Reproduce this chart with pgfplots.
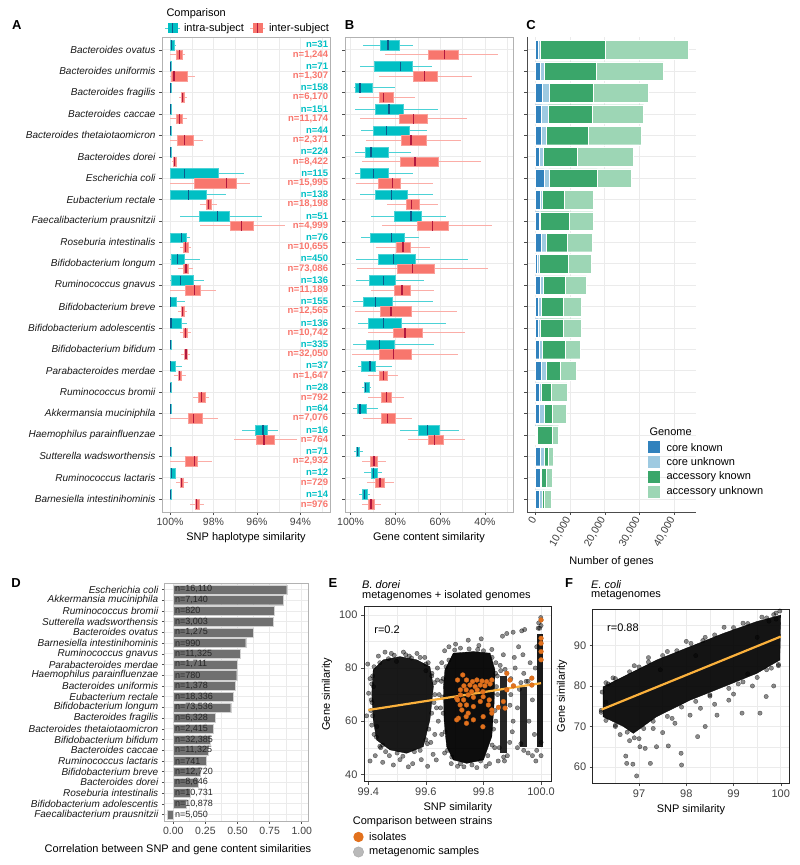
\documentclass[border=0pt]{standalone}
\usepackage{pgfplots}
\pgfplotsset{compat=1.18}
\usepgfplotslibrary{statistics}
\usepackage{pgfplotstable}
\usepackage{fontspec}
\setmainfont{Liberation Sans}

\definecolor{intraC}{HTML}{00BFC4}
\definecolor{intraM}{HTML}{0D5A8C}
\definecolor{interC}{HTML}{F8766D}
\definecolor{interM}{HTML}{B2183F}
\definecolor{gridc}{HTML}{EBEBEB}
\definecolor{ckC}{HTML}{3182BD}
\definecolor{cuC}{HTML}{9ECAE1}
\definecolor{akC}{HTML}{3AA66A}
\definecolor{auC}{HTML}{9DD6B5}
\definecolor{barD}{HTML}{707070}
\definecolor{isoC}{HTML}{E2711D}
\definecolor{fitC}{HTML}{FBB13C}

\newcommand\fs[1]{\fontsize{#1}{#1}\selectfont}

\tikzset{
  nA/.style={anchor=east, inner sep=0pt, font=\fs{9.5}\bfseries},
  nD/.style={anchor=west, inner sep=0pt, font=\fs{9}, text=black!85},
}

\pgfplotsset{
  gg/.style={scale only axis, anchor=south west, clip mode=individual,
    axis line style={draw=gray!60, line width=0.6pt},
    tick style={draw=black!70, line width=0.5pt}, major tick length=3pt, minor tick length=0pt,
    tick align=outside, tick pos=left, grid=both,
    major grid style={draw=gridc, line width=0.7pt},
    minor grid style={draw=gridc, line width=0.35pt},
    tick label style={font=\fs{10.5}, text=black!75},
    label style={font=\fs{11}},
    /pgf/number format/assume math mode=true},
  noylab/.style={yticklabel style={text opacity=0}},
  bxIntra/.style={solid, boxplot/draw direction=x, boxplot/box extend=0.45, boxplot/whisker extend=0,
    boxplot/every box/.style={draw=intraC!70!white, fill=intraC, line width=0.4pt},
    boxplot/every whisker/.style={draw=intraC!70!white, line width=0.9pt},
    boxplot/every median/.style={draw=intraM, line width=1.3pt}},
  bxInter/.style={solid, boxplot/draw direction=x, boxplot/box extend=0.45, boxplot/whisker extend=0,
    boxplot/every box/.style={draw=interC!70!white, fill=interC, line width=0.4pt},
    boxplot/every whisker/.style={draw=interC!60!white, line width=0.9pt},
    boxplot/every median/.style={draw=interM, line width=1.3pt}},
  cloud/.style={only marks, mark=*, mark size=2.2pt, mark options={fill=black, fill opacity=0.45, draw=black, draw opacity=0.6, line width=0.3pt}},
}

\newcommand\bp[7]{\addplot[#1, boxplot prepared={draw position={#2}, lower whisker=#3, lower quartile=#4, median=#5, upper quartile=#6, upper whisker=#7}] coordinates {};}
\newcommand\ia[6]{\bp{bxIntra}{#1+0.225}{#2}{#3}{#4}{#5}{#6}}
\newcommand\ie[6]{\bp{bxInter}{#1-0.225}{#2}{#3}{#4}{#5}{#6}}
\newcommand\nl[3]{\node[nA, text=intraC] at (axis cs:92.72,{#1+0.24}) {n=#2};
  \node[nA, text=interC] at (axis cs:92.72,{#1-0.22}) {n=#3};}

% genome composition (panel C), y = 23 - row
\pgfplotstableread{
y ck cu ak au
22 863 672 18705 23789
21 1535 1055 14868 19472
20 2014 2111 12566 15731
19 1823 1918 12566 14868
18 1727 1343 12182 15252
17 1055 1151 9880 16211
16 2494 1439 13909 9688
15 1343 575 6331 8538
14 1055 480 8153 6907
13 1631 1439 6235 7098
12 671 384 8345 6811
11 1343 959 6331 6139
10 959 672 6427 5275
9 863 480 6715 5084
8 1055 1055 6427 4509
7 1631 1630 4029 4509
6 1151 576 2781 4605
5 1247 1247 2398 4125
4 192 384 4316 1823
3 1535 1055 1055 1439
2 1439 288 1343 1726
1 1247 767 672 1822
}\dataC

% correlation (panel D)
\pgfplotstableread{
y r
22 0.883
21 0.857
20 0.784
19 0.779
18 0.623
17 0.564
16 0.519
15 0.501
14 0.494
13 0.483
12 0.468
11 0.447
10 0.330
9 0.314
8 0.286
7 0.273
6 0.255
5 0.208
4 0.195
3 0.130
2 0.104
1 -0.044
}\dataD

\begin{document}
\begin{tikzpicture}[x=1pt,y=1pt]
\useasboundingbox (0,0) rectangle (800,865);

% ---------------- A ----------------
\begin{axis}[gg, at={(162pt,353pt)}, width=168pt, height=475pt,
  x dir=reverse, xmin=92.64, xmax=100.37, ymin=0.4, ymax=22.6,
  xtick={100,98,96,94}, xticklabels={100\%,98\%,96\%,94\%}, minor xtick={99,97,95,93},
  ytick={1,...,22},
  yticklabels={Barnesiella intestinihominis, Ruminococcus lactaris, Sutterella wadsworthensis,
    Haemophilus parainfluenzae, Akkermansia muciniphila, Ruminococcus bromii, Parabacteroides merdae,
    Bifidobacterium bifidum, Bifidobacterium adolescentis, Bifidobacterium breve, Ruminococcus gnavus,
    Bifidobacterium longum, Roseburia intestinalis, Faecalibacterium prausnitzii, Eubacterium rectale,
    Escherichia coli, Bacteroides dorei, Bacteroides thetaiotaomicron, Bacteroides caccae,
    Bacteroides fragilis, Bacteroides uniformis, Bacteroides ovatus},
  yticklabel style={font=\fs{10}\itshape, text=black!90},
  xlabel={SNP haplotype similarity}]
\ia{22}{99.72}{99.82}{99.92}{99.99}{100}
\ia{21}{99.95}{99.96}{99.98}{100}{100}
\ia{20}{99.95}{99.96}{99.98}{100}{100}
\ia{19}{99.95}{99.96}{99.98}{100}{100}
\ia{18}{99.95}{99.96}{99.98}{100}{100}
\ia{17}{99.95}{99.96}{99.98}{100}{100}
\ia{16}{96.60}{97.78}{99.32}{100}{100}
\ia{15}{97.43}{98.32}{99.16}{99.98}{100}
\ia{14}{95.76}{97.28}{97.83}{98.67}{99.55}
\ia{13}{99.10}{99.27}{99.47}{100}{100}
\ia{12}{98.64}{99.35}{99.65}{99.93}{100}
\ia{11}{98.43}{98.93}{99.53}{99.93}{100}
\ia{10}{99.32}{99.70}{99.97}{100}{100}
\ia{9}{99.21}{99.47}{99.95}{100}{100}
\ia{8}{99.95}{99.96}{99.98}{100}{100}
\ia{7}{99.44}{99.75}{99.97}{100}{100}
\ia{6}{99.95}{99.96}{99.98}{100}{100}
\ia{5}{99.95}{99.96}{99.98}{100}{100}
\ia{4}{95.04}{95.52}{95.72}{96.08}{96.68}
\ia{3}{99.95}{99.96}{99.98}{100}{100}
\ia{2}{99.74}{99.76}{99.93}{99.98}{100}
\ia{1}{99.95}{99.96}{99.98}{100}{100}
\ie{22}{99.32}{99.43}{99.56}{99.72}{100}
\ie{21}{98.83}{99.21}{99.82}{99.96}{100}
\ie{20}{99.24}{99.33}{99.42}{99.50}{99.58}
\ie{19}{99.21}{99.44}{99.56}{99.72}{100}
\ie{18}{98.49}{98.95}{99.35}{99.66}{100}
\ie{17}{99.67}{99.73}{99.79}{99.85}{99.92}
\ie{16}{96.30}{96.94}{97.40}{98.87}{100}
\ie{15}{97.83}{98.11}{98.23}{98.34}{98.64}
\ie{14}{94.69}{96.18}{96.71}{97.22}{98.60}
\ie{13}{99.03}{99.16}{99.29}{99.39}{99.52}
\ie{12}{98.93}{99.16}{99.27}{99.39}{99.62}
\ie{11}{97.90}{98.63}{98.89}{99.32}{100}
\ie{10}{99.24}{99.36}{99.43}{99.50}{99.62}
\ie{9}{99.03}{99.21}{99.30}{99.39}{99.56}
\ie{8}{99.09}{99.20}{99.26}{99.33}{99.50}
\ie{7}{99.26}{99.47}{99.55}{99.62}{99.84}
\ie{6}{98.21}{98.39}{98.55}{98.70}{98.95}
\ie{5}{97.78}{98.54}{98.93}{99.16}{100}
\ie{4}{94.14}{95.21}{95.67}{96.02}{97.06}
\ie{3}{98.09}{98.74}{98.89}{99.32}{100}
\ie{2}{99.16}{99.38}{99.46}{99.52}{99.72}
\ie{1}{98.46}{98.66}{98.77}{98.84}{99.10}
\nl{22}{31}{1,244}
\nl{21}{71}{1,307}
\nl{20}{158}{6,170}
\nl{19}{151}{11,174}
\nl{18}{44}{2,371}
\nl{17}{224}{8,422}
\nl{16}{115}{15,995}
\nl{15}{138}{18,198}
\nl{14}{51}{4,999}
\nl{13}{76}{10,655}
\nl{12}{450}{73,086}
\nl{11}{136}{11,189}
\nl{10}{155}{12,565}
\nl{9}{136}{10,742}
\nl{8}{335}{32,050}
\nl{7}{37}{1,647}
\nl{6}{28}{792}
\nl{5}{64}{7,076}
\nl{4}{16}{764}
\nl{3}{71}{2,932}
\nl{2}{12}{729}
\nl{1}{14}{976}
\end{axis}

% ---------------- B ----------------
\begin{axis}[gg, noylab, at={(345pt,353pt)}, width=168pt, height=475pt,
  x dir=reverse, xmin=27.5, xmax=102.5, ymin=0.4, ymax=22.6,
  xtick={100,80,60,40}, xticklabels={100\%,80\%,60\%,40\%}, minor xtick={90,70,50,30},
  ytick={1,...,22},
  xlabel={Gene content similarity}]
\ia{22}{72.0}{78.3}{83.3}{86.6}{94.3}
\ia{21}{63.8}{72.5}{77.7}{89.3}{95.8}
\ia{20}{80.2}{90.2}{95.8}{98.1}{98.5}
\ia{19}{60.9}{76.6}{82.9}{89.1}{97.9}
\ia{18}{65.8}{74.0}{83.9}{89.9}{95.2}
\ia{17}{72.9}{83.0}{90.9}{93.3}{98.1}
\ia{16}{72.0}{83.2}{89.7}{95.7}{98.1}
\ia{15}{63.4}{74.9}{81.7}{88.8}{95.8}
\ia{14}{57.6}{68.3}{73.1}{80.5}{90.9}
\ia{13}{69.6}{76.2}{81.8}{91.2}{95.2}
\ia{12}{47.5}{71.1}{81.0}{87.6}{97.8}
\ia{11}{67.3}{80.1}{85.4}{91.7}{97.8}
\ia{10}{63.2}{81.5}{88.8}{94.3}{99.1}
\ia{9}{57.6}{77.2}{85.4}{92.1}{96.9}
\ia{8}{62.6}{80.5}{87.2}{93.2}{99.1}
\ia{7}{81.7}{88.8}{91.4}{95.2}{96.9}
\ia{6}{90.9}{91.8}{93.2}{93.9}{95.1}
\ia{5}{87.6}{92.9}{95.8}{96.9}{98.8}
\ia{4}{51.5}{60.4}{65.8}{69.8}{78.0}
\ia{3}{94.3}{96.0}{96.9}{97.6}{98.4}
\ia{2}{85.9}{88.1}{89.7}{90.9}{93.9}
\ia{1}{91.4}{92.6}{93.9}{94.8}{96.1}
\ie{22}{34.4}{52.1}{58.2}{65.3}{84.5}
\ie{21}{46.0}{61.2}{67.0}{72.0}{87.2}
\ie{20}{71.4}{80.8}{85.3}{87.2}{96.3}
\ie{19}{48.2}{65.9}{71.9}{78.3}{95.7}
\ie{18}{50.7}{66.4}{73.1}{77.5}{93.2}
\ie{17}{42.0}{60.9}{71.3}{77.7}{94.8}
\ie{16}{63.2}{77.7}{81.3}{87.8}{97.8}
\ie{15}{61.2}{69.5}{72.8}{75.3}{83.6}
\ie{14}{36.8}{56.5}{63.5}{70.1}{86.0}
\ie{13}{64.4}{73.4}{76.6}{79.8}{88.8}
\ie{12}{38.5}{62.8}{72.5}{79.2}{97.3}
\ie{11}{62.9}{73.2}{77.1}{80.7}{90.9}
\ie{10}{52.7}{72.9}{82.0}{86.9}{98.1}
\ie{9}{49.0}{67.9}{75.7}{81.0}{92.1}
\ie{8}{51.9}{72.8}{80.7}{87.4}{99.4}
\ie{7}{78.7}{83.5}{85.4}{87.4}{92.4}
\ie{6}{76.2}{82.0}{83.9}{86.3}{92.1}
\ie{5}{72.5}{80.2}{83.6}{86.3}{94.6}
\ie{4}{49.1}{58.6}{62.4}{65.5}{74.4}
\ie{3}{84.4}{88.1}{89.6}{91.1}{94.8}
\ie{2}{80.5}{85.0}{86.9}{88.8}{92.6}
\ie{1}{86.6}{89.4}{90.9}{92.1}{95.1}
\end{axis}

% ---------------- C ----------------
\begin{axis}[gg, noylab, at={(527pt,353pt)}, width=169pt, height=475pt,
  xbar stacked, bar width=0.87,
  xmin=-2390, xmax=46245, ymin=0.4, ymax=22.6, grid=major,
  axis line style={draw=none}, scaled x ticks=false,
  xtick={0,10000,20000,30000,40000}, xticklabels={0,{10,000},{20,000},{30,000},{40,000}},
  xticklabel style={rotate=60, anchor=east, font=\fs{10.5}},
  ytick={1,...,22},
  xlabel={Number of genes}]
\addplot[fill=ckC, draw=white, line width=0.3pt] table[x=ck, y=y] {\dataC};
\addplot[fill=cuC, draw=white, line width=0.3pt] table[x=cu, y=y] {\dataC};
\addplot[fill=akC, draw=white, line width=0.3pt] table[x=ak, y=y] {\dataC};
\addplot[fill=auC, draw=white, line width=0.3pt] table[x=au, y=y] {\dataC};
\draw[gray!60!black, line width=0.6pt] (axis description cs:0,1) -- (axis description cs:0,0) -- (axis description cs:1,0);
\end{axis}

% legend C
\node[anchor=west, font=\fs{11}] at (646,433.3) {Genome};
\fill[ckC] (647.7,411.7) rectangle (660,424);
\fill[cuC] (647.7,397) rectangle (660,409);
\fill[akC] (647.7,382) rectangle (660,394);
\fill[auC] (647.7,367) rectangle (660,379);
\node[anchor=west, font=\fs{11}] at (663,417.8) {core known};
\node[anchor=west, font=\fs{11}] at (663,403) {core unknown};
\node[anchor=west, font=\fs{11}] at (663,388) {accessory known};
\node[anchor=west, font=\fs{11}] at (663,373) {accessory unknown};

% legend A/B
\node[anchor=west, font=\fs{11}] at (163,851.7) {Comparison};
\draw[intraC!70!white, line width=0.9pt] (165,836.7) -- (180,836.7);
\fill[intraC] (167.5,832) rectangle (177.5,841.5);
\draw[intraM, line width=1.3pt] (172.5,832) -- (172.5,841.5);
\node[anchor=west, font=\fs{11}] at (180.5,836.7) {intra-subject};
\draw[interC!60!white, line width=0.9pt] (250,836.7) -- (265,836.7);
\fill[interC] (252.5,832) rectangle (262.5,841.5);
\draw[interM, line width=1.3pt] (257.5,832) -- (257.5,841.5);
\node[anchor=west, font=\fs{11}] at (265.5,836.7) {inter-subject};

% ---------------- D ----------------
\begin{axis}[gg, at={(164.3pt,44pt)}, width=144pt, height=238pt,
  xbar, bar width=0.85,
  xmin=-0.07, xmax=1.051, ymin=0.4, ymax=22.6,
  xtick={0,0.25,0.5,0.75,1}, xticklabels={0.00,0.25,0.50,0.75,1.00},
  minor xtick={0.125,0.375,0.625,0.875},
  ytick={1,...,22},
  yticklabels={Faecalibacterium prausnitzii, Bifidobacterium adolescentis, Roseburia intestinalis,
    Bacteroides dorei, Bifidobacterium breve, Ruminococcus lactaris, Bacteroides caccae,
    Bifidobacterium bifidum, Bacteroides thetaiotaomicron, Bacteroides fragilis, Bifidobacterium longum,
    Eubacterium rectale, Bacteroides uniformis, Haemophilus parainfluenzae, Parabacteroides merdae,
    Ruminococcus gnavus, Barnesiella intestinihominis, Bacteroides ovatus, Sutterella wadsworthensis,
    Ruminococcus bromii, Akkermansia muciniphila, Escherichia coli},
  yticklabel style={font=\fs{10}\itshape, text=black!90},
  major tick length=2.5pt]
\addplot[fill=barD, draw=gray!35, line width=0.4pt] table[x=r, y=y] {\dataD};
\node[nD] at (axis cs:0.012,22) {n=16,110};
\node[nD] at (axis cs:0.012,21) {n=7,140};
\node[nD] at (axis cs:0.012,20) {n=820};
\node[nD] at (axis cs:0.012,19) {n=3,003};
\node[nD] at (axis cs:0.012,18) {n=1,275};
\node[nD] at (axis cs:0.012,17) {n=990};
\node[nD] at (axis cs:0.012,16) {n=11,325};
\node[nD] at (axis cs:0.012,15) {n=1,711};
\node[nD] at (axis cs:0.012,14) {n=780};
\node[nD] at (axis cs:0.012,13) {n=1,378};
\node[nD] at (axis cs:0.012,12) {n=18,336};
\node[nD] at (axis cs:0.012,11) {n=73,536};
\node[nD] at (axis cs:0.012,10) {n=6,328};
\node[nD] at (axis cs:0.012,9) {n=2,415};
\node[nD] at (axis cs:0.012,8) {n=32,385};
\node[nD] at (axis cs:0.012,7) {n=11,325};
\node[nD] at (axis cs:0.012,6) {n=741};
\node[nD] at (axis cs:0.012,5) {n=12,720};
\node[nD] at (axis cs:0.012,4) {n=8,646};
\node[nD] at (axis cs:0.012,3) {n=10,731};
\node[nD] at (axis cs:0.012,2) {n=10,878};
\node[nD] at (axis cs:0.012,1) {n=5,050};
\end{axis}
\node[font=\fs{11}] at (178,15) {Correlation between SNP and gene content similarities};

% ---------------- E ----------------
\begin{axis}[gg, at={(364pt,83.3pt)}, width=187.7pt, height=175pt,
  axis line style={draw=black!85, line width=0.8pt},
  xmin=99.385, xmax=100.037, ymin=37.2, ymax=103.1,
  xtick={99.4,99.6,99.8,100}, xticklabels={99.4,99.6,99.8,100.0}, minor xtick={99.5,99.7,99.9},
  ytick={40,60,80,100}, minor ytick={50,70,90},
  tick label style={font=\fs{11}},
  xlabel={SNP similarity}, ylabel={Gene similarity}]
% dense point clouds
\addplot[fill=black, draw=black, fill opacity=0.9, line width=0.3pt] coordinates {
(99.417,79.3) (99.452,83.1) (99.510,84.3) (99.568,83.1) (99.614,80.5) (99.626,73.0) (99.614,60.5)
(99.591,50.4) (99.533,47.9) (99.475,49.2) (99.429,52.9) (99.417,60.5) (99.412,70.5)} -- cycle;
\addplot[fill=black, draw=black, fill opacity=0.95, line width=0.3pt] coordinates {
(99.666,79.3) (99.695,85.6) (99.765,86.2) (99.823,85.6) (99.840,79.3) (99.837,66.7) (99.829,54.2)
(99.800,45.4) (99.742,44.1) (99.695,45.4) (99.672,50.4) (99.663,60.5) (99.661,73.0)} -- cycle;
\addplot[fill=black, draw=none, fill opacity=0.85] coordinates {(99.858,77) (99.881,77) (99.881,48) (99.858,48)} -- cycle;
\addplot[fill=black, draw=none, fill opacity=0.85] coordinates {(99.927,73) (99.950,73) (99.950,50.4) (99.927,50.4)} -- cycle;
\addplot[fill=black, draw=none, fill opacity=0.9] coordinates {(99.987,93) (100.008,93) (100.008,50.4) (99.987,50.4)} -- cycle;
% sparse metagenomic comparisons
\addplot[cloud] coordinates {
(99.398,81.5) (99.406,76) (99.401,70.5) (99.412,58.5) (99.409,64) (99.406,45) (99.450,44.5)
(99.428,54) (99.435,84.5) (99.458,86) (99.480,85.5) (99.498,82.5) (99.522,86) (99.542,84.5)
(99.569,85.5) (99.596,84) (99.621,78) (99.631,70) (99.637,65) (99.631,55) (99.625,47.5)
(99.584,45.5) (99.554,44) (99.510,45.5) (99.473,47) (99.443,50) (99.608,82) (99.418,73)
(99.640,80) (99.643,60) (99.539,42.8) (99.636,45.4) (99.424,47) (99.487,43.5) (99.606,43)
(99.617,52) (99.413,67) (99.394,62)
(99.655,82) (99.665,86.5) (99.680,88) (99.703,89) (99.747,90.5) (99.784,88.5) (99.829,87)
(99.843,82) (99.849,70) (99.843,60) (99.839,50) (99.821,44) (99.777,42.5) (99.732,42.8)
(99.688,44) (99.665,48) (99.655,55) (99.651,65) (99.654,75) (99.792,91) (99.851,45)
(99.809,43) (99.710,43) (99.646,70) (99.848,77)
(99.866,92) (99.881,93) (99.903,93.5) (99.933,94) (99.943,94.5) (99.858,81) (99.869,85)
(99.895,70) (99.903,60) (99.910,80) (99.891,52) (99.873,45) (99.918,65) (99.922,88)
(99.955,75) (99.962,82) (99.970,68) (99.977,55) (99.970,47) (99.955,48) (99.940,78)
(99.992,97) (99.999,99) (99.982,45) (100.0,47) (99.895,76) (99.918,50) (99.925,72)
(99.907,84) (99.892,66) (99.900,56) (99.937,85) (99.958,60) (99.980,80) (99.985,88) (99.995,95)
(99.42,80.5) (99.44,82) (99.47,83.5) (99.49,84.8) (99.53,85) (99.55,83.8) (99.58,84) (99.60,81.5)
(99.62,77) (99.63,74.5) (99.628,67) (99.62,63) (99.61,57) (99.60,53) (99.58,49) (99.56,48.5)
(99.52,46.8) (99.50,48) (99.46,48.5) (99.44,50.5) (99.42,55) (99.415,62) (99.41,68) (99.412,74)
(99.415,77) (99.43,58) (99.45,51) (99.60,79) (99.64,75.5) (99.605,51.5)
(99.67,80.5) (99.68,83) (99.70,86.8) (99.72,87.5) (99.75,87.2) (99.78,87) (99.80,86.5) (99.83,84)
(99.842,78) (99.845,73) (99.84,64) (99.835,57) (99.83,51) (99.815,47) (99.79,45) (99.76,43.5)
(99.72,44) (99.69,46.5) (99.675,49) (99.667,56) (99.66,63) (99.658,69) (99.66,76)
(99.86,79) (99.875,79.5) (99.855,50) (99.883,47) (99.93,74.5) (99.948,75) (99.94,49) (99.99,95)
(100.0,96) (99.985,49) (100.0,52) (99.87,46.5) (99.93,51.5)};
% fit
\addplot[fitC, line width=2.2pt] coordinates {(99.400,64.2) (100.0,74.3)};
% isolates
\addplot[only marks, mark=*, mark size=2.4pt, mark options={fill=isoC, draw=isoC!85!black, line width=0.3pt}] coordinates {
(99.728,77.4) (99.710,75.5) (99.741,75.5) (99.762,74.9) (99.777,75.5) (99.795,75.1) (99.811,74.9)
(99.829,75.5) (99.732,73.3) (99.753,73.6) (99.771,73.0) (99.789,73.6) (99.805,73.3) (99.823,74.0)
(99.720,71.8) (99.740,71.8) (99.759,71.1) (99.778,71.8) (99.798,71.1) (99.720,69.9) (99.747,69.9)
(99.707,68.6) (99.731,68.0) (99.765,69.0) (99.799,69.2) (99.820,68.0) (99.881,78.0) (99.892,75.5)
(99.904,73.3) (99.968,76.2) (99.968,73.6) (100.0,98.1) (100.0,91.2) (100.0,89.3) (100.0,86.2)
(100.0,83.1) (99.881,71.8)
(99.710,68.0) (99.719,66.1) (99.741,66.1) (99.765,65.5) (99.789,67.4) (99.817,66.1) (99.829,64.2)
(99.725,64.2) (99.747,63.0) (99.740,61.7) (99.713,61.1) (99.765,60.5) (99.799,61.7) (99.741,59.2)
(99.798,57.9) (99.829,63.0) (99.852,65.2) (99.869,67.4) (99.875,64.9) (99.707,60.5)};
\node[font=\fs{11}] at (axis cs:99.465,94.6) {r=0.2};
\end{axis}
\node[font=\fs{13}\bfseries] at (333,281.7) {E};
\node[anchor=west, font=\fs{11}\itshape, inner sep=0pt] at (362,280) {B. dorei};
\node[anchor=west, font=\fs{11}, inner sep=0pt] at (362,269.5) {metagenomes + isolated genomes};

% legend E
\node[anchor=west, font=\fs{11}, inner sep=0pt] at (352.7,43.3) {Comparison between strains};
\fill[isoC] (358.5,28) circle (5.2);
\fill[gray!55] (358.5,13) circle (5.2);
\draw[gray!70] (358.5,13) circle (5.2);
\node[anchor=west, font=\fs{11}, inner sep=0pt] at (369,28) {isolates};
\node[anchor=west, font=\fs{11}, inner sep=0pt] at (369,13) {metagenomic samples};

% ---------------- F ----------------
\begin{axis}[gg, at={(592.7pt,81.7pt)}, width=196.6pt, height=174.3pt,
  axis line style={draw=black!85, line width=0.8pt},
  xmin=96.02, xmax=100.18, ymin=55.98, ymax=99.0,
  xtick={97,98,99,100}, minor xtick={96.5,97.5,98.5,99.5},
  ytick={60,70,80,90}, minor ytick={65,75,85,95},
  tick label style={font=\fs{11}},
  xlabel={SNP similarity}, ylabel={Gene similarity}]
\addplot[fill=black, draw=black, fill opacity=0.92, line width=0.3pt] coordinates {
(96.24,79.8) (96.67,82.3) (97.37,86.4) (98.08,89.7) (98.79,93.0) (99.49,95.9) (100.0,97.5)
(99.98,86.4) (99.49,83.1) (98.79,79.8) (98.08,76.5) (97.37,72.4) (96.88,68.3) (96.67,70.0) (96.24,72.4)} -- cycle;
\addplot[cloud] coordinates {
(96.72,62.7) (96.95,57.8) (96.87,60.7) (97.13,64.6) (97.24,60.9) (97.62,65.2) (97.89,63.4)
(98.24,67.5) (98.65,72.8) (99.18,73.3) (99.69,77.4) (98.40,70.0) (97.76,70.8) (98.08,72.8)
(97.37,65.0) (97.02,65.0) (96.74,60.9) (96.3,76) (96.2,74) (96.5,70) (96.45,82) (96.9,85)
(97.2,87) (97.6,88.5) (98.0,91) (98.4,92) (98.8,94.5) (99.2,95.5) (99.6,97) (99.9,98)
(99.75,96) (99.85,80) (99.4,80) (98.9,76.5) (98.6,75.5) (99.0,78) (99.95,85) (99.3,83)
(97.5,68.5) (97.0,67) (96.6,68) (98.3,74.5) (99.56,73.3) (97.9,60.5) (96.35,80.5) (96.8,66.5)
(97.3,69.5) (97.7,72) (98.5,77.5) (99.1,80.5) (99.7,84) (99.5,92) (97.45,84) (98.2,87.5)
(96.3,80.8) (96.5,81.8) (96.8,83.5) (97.0,84.7) (97.2,85.9) (97.5,87.5) (97.8,88.7) (98.1,90.5)
(98.35,91.2) (98.6,92.6) (99.0,94.4) (99.3,95.4) (99.7,96.8) (99.85,97.6) (99.98,98.5) (99.9,96.5)
(96.3,71.5) (96.5,70.3) (96.75,68.6) (96.9,67.2) (97.1,69.5) (97.3,71.3) (97.6,72.5) (97.9,74.8)
(98.2,76.2) (98.5,77.8) (98.9,79.4) (99.2,81.0) (99.5,82.1) (99.8,84.4) (99.95,85.3) (96.2,73.5)
(96.22,78.5)};
\addplot[fitC, line width=2.2pt] coordinates {(96.21,74.2) (100,92.2)};
\node[font=\fs{11}] at (axis cs:96.66,94.3) {r=0.88};
\end{axis}
\node[font=\fs{13}\bfseries] at (569,281.7) {F};
\node[anchor=west, font=\fs{11}\itshape, inner sep=0pt] at (591,280) {E. coli};
\node[anchor=west, font=\fs{11}, inner sep=0pt] at (591,269.5) {metagenomes};

% panel letters
\node[font=\fs{13}\bfseries] at (16.7,840) {A};
\node[font=\fs{13}\bfseries] at (349.5,840) {B};
\node[font=\fs{13}\bfseries] at (531,840) {C};
\node[font=\fs{13}\bfseries] at (16,281.7) {D};
\end{tikzpicture}
\end{document}
